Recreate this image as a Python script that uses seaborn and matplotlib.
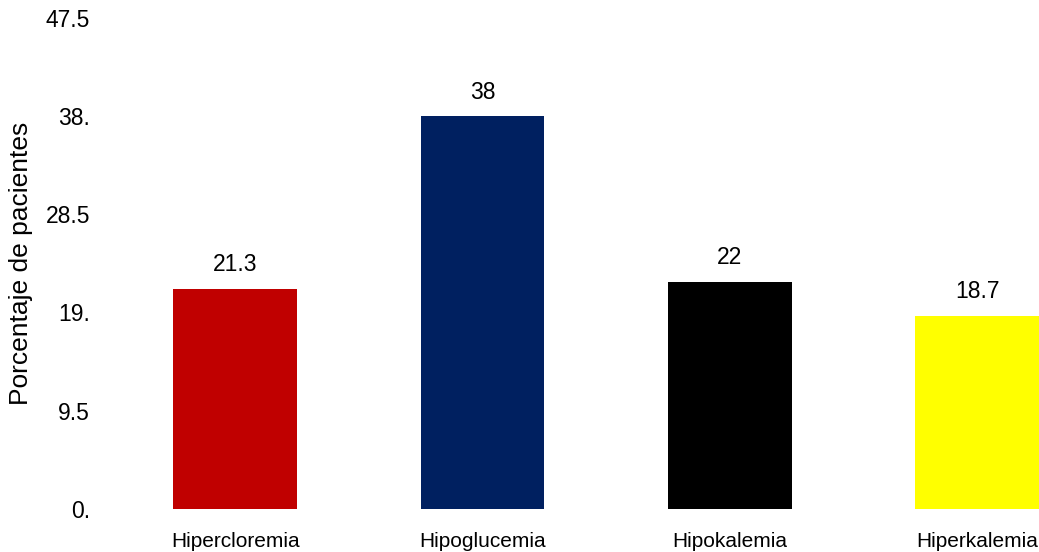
import matplotlib
matplotlib.use("Agg")
import matplotlib.pyplot as plt
import seaborn as sns
import pandas as pd

# chart data
categories = ["Hipercloremia", "Hipoglucemia", "Hipokalemia", "Hiperkalemia"]
values = [21.3, 38, 22, 18.7]
value_labels = ["21.3", "38", "22", "18.7"]
bar_colors = ["#C00000", "#002060", "#000000", "#FFFF00"]
y_ticks = [0, 9.5, 19, 28.5, 38, 47.5]
y_tick_labels = ["0.", "9.5", "19.", "28.5", "38.", "47.5"]

sns.set_style("white")
plt.rcParams["font.family"] = ["Liberation Sans", "DejaVu Sans"]
plt.rcParams["text.color"] = "black"
plt.rcParams["axes.labelcolor"] = "black"
plt.rcParams["xtick.color"] = "black"
plt.rcParams["ytick.color"] = "black"

df = pd.DataFrame({"categoria": categories, "valor": values})

fig = plt.figure(figsize=(10.39, 5.52), dpi=100)
ax = fig.add_axes([0.0962, 0.0785, 0.9038, 0.8885])

sns.barplot(data=df, x="categoria", y="valor", hue="categoria",
            palette=bar_colors, width=0.5, saturation=1, legend=False,
            linewidth=0, ax=ax)

for cont, lab in zip(ax.containers, value_labels):
    ax.bar_label(cont, labels=[lab], padding=9, fontsize=16.5, color="black")

ax.set_ylim(0, 47.5)
ax.set_xlim(-0.547, 3.25)
ax.set_yticks(y_ticks)
ax.set_yticklabels(y_tick_labels)
ax.tick_params(axis="y", length=0, pad=7, labelsize=16.5, labelcolor="black")
ax.tick_params(axis="x", length=0, pad=17, labelsize=15, labelcolor="black")
ax.set_xlabel("")
ax.set_ylabel("Porcentaje de pacientes", fontsize=19, color="black")
ax.yaxis.set_label_coords(-0.071, 0.5)

for s in ax.spines.values():
    s.set_visible(False)
ax.grid(False)

fig.savefig("out.png", dpi=100)
